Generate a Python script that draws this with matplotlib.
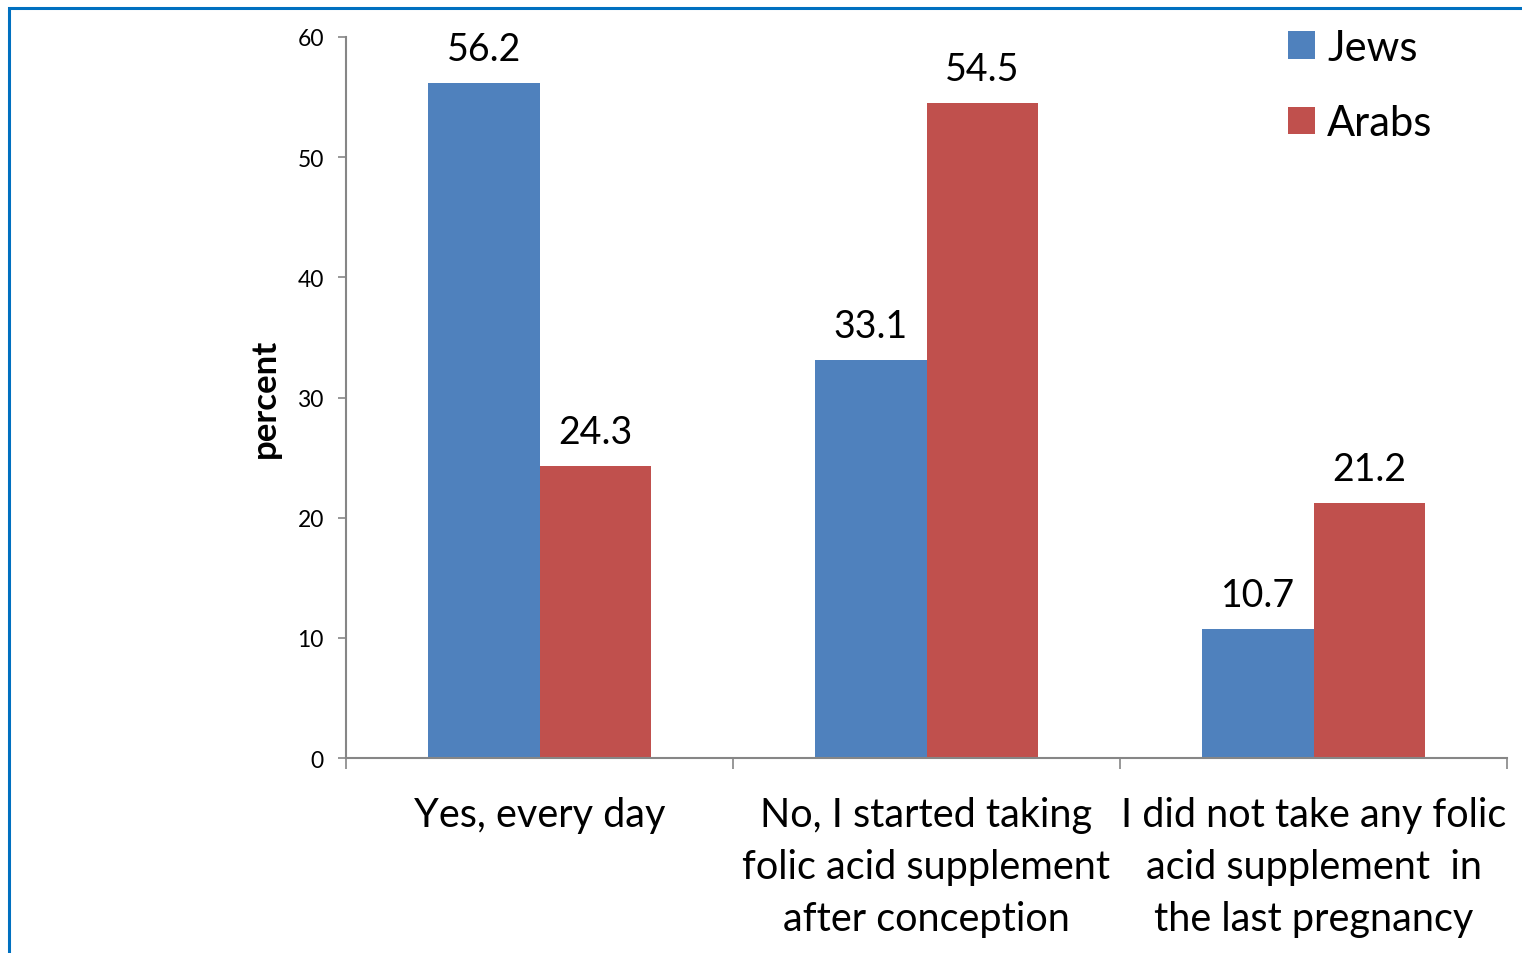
import matplotlib
matplotlib.use("Agg")
import matplotlib.pyplot as plt
from matplotlib.patches import Patch, Rectangle
import numpy as np

plt.rcParams['font.family'] = ['Lato', 'DejaVu Sans']

categories = ["Yes, every day",
              "No, I started taking\nfolic acid supplement\nafter conception",
              "I did not take any folic\nacid supplement  in\nthe last pregnancy"]
jews = [56.2, 33.1, 10.7]
arabs = [24.3, 54.5, 21.2]
series_names = ["Jews", "Arabs"]
yticks = [0, 10, 20, 30, 40, 50, 60]

blue = '#4F81BD'
red = '#C0504D'
axis_gray = '#868686'

fig = plt.figure(figsize=(15.22, 9.54), dpi=100)
ax = fig.add_axes([346 / 1522, 1 - 759 / 954, 1161 / 1522, 721 / 954])

x = np.arange(len(categories))
w = 0.287
b1 = ax.bar(x - w / 2, jews, w, color=blue, label=series_names[0])
b2 = ax.bar(x + w / 2, arabs, w, color=red, label=series_names[1])

for bars, vals in ((b1, jews), (b2, arabs)):
    for r, v in zip(bars, vals):
        ax.annotate(f"{v}", (r.get_x() + r.get_width() / 2, v),
                    xytext=(0, 11.5), textcoords='offset points',
                    ha='center', va='bottom', fontsize=27)

ax.set_xlim(-0.5, 2.5)
ax.set_ylim(0, 60)
ax.set_yticks(yticks)
ax.tick_params(axis='y', length=6, width=1.2, color=axis_gray,
               labelsize=16.5, pad=10)

# category labels on major ticks, separator ticks between groups
ax.set_xticks(x)
ax.set_xticklabels(categories, fontsize=28.5, linespacing=1.5)
ax.set_xticks(np.arange(-0.5, 3.0, 1.0), minor=True)
ax.tick_params(axis='x', which='major', length=0, pad=27)
ax.tick_params(axis='x', which='minor', length=8, width=1.2, color=axis_gray)

for s in ('top', 'right'):
    ax.spines[s].set_visible(False)
for s in ('left', 'bottom'):
    ax.spines[s].set_color(axis_gray)
    ax.spines[s].set_linewidth(1.5)

ax.set_ylabel("percent", fontsize=25, fontweight='bold', labelpad=12)

handles = [Patch(facecolor=blue), Patch(facecolor=red)]
fig.legend(handles, series_names, loc='upper left',
           bbox_to_anchor=(1271 / 1522, 1 - 13 / 954), frameon=False,
           fontsize=30, handlelength=0.65, handleheight=0.65,
           handletextpad=0.3, labelspacing=0.9, borderaxespad=0)

# outer chart frame
fig.patches.append(Rectangle((9 / 1522, -0.05), 1.2, 1 - 9 / 954 + 0.05,
                             transform=fig.transFigure, fill=False,
                             edgecolor='#0070C0', linewidth=2.2))

fig.savefig("out.png", dpi=100)
